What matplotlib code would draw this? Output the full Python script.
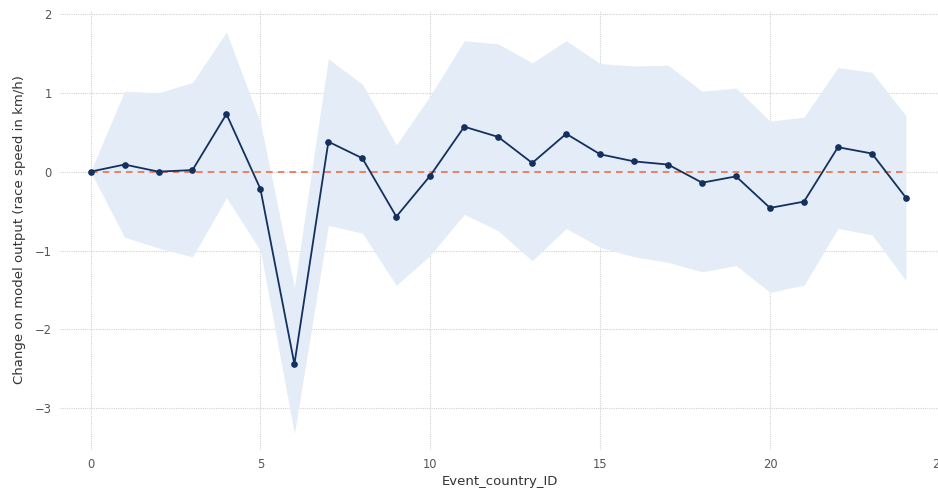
import numpy as np
import matplotlib
matplotlib.use("Agg")
import matplotlib.pyplot as plt

# ===== data =====
event_ids = list(range(25))
mean_change = [0.00, 0.09, 0.00, 0.02, 0.73, -0.22, -2.44, 0.38, 0.17, -0.57,
               -0.05, 0.57, 0.44, 0.11, 0.48, 0.22, 0.13, 0.09, -0.14, -0.06,
               -0.46, -0.38, 0.31, 0.23, -0.33]
upper = [0.00, 1.02, 1.00, 1.13, 1.77, 0.62, -1.47, 1.43, 1.11, 0.34,
         0.96, 1.66, 1.62, 1.38, 1.66, 1.37, 1.34, 1.35, 1.02, 1.06,
         0.64, 0.69, 1.32, 1.26, 0.71]
lower = [0.00, -0.83, -0.97, -1.08, -0.33, -1.00, -3.32, -0.68, -0.78, -1.44,
         -1.06, -0.54, -0.75, -1.13, -0.72, -0.96, -1.08, -1.15, -1.27, -1.19,
         -1.53, -1.44, -0.72, -0.80, -1.38]

x = np.array(event_ids)

fig = plt.figure(figsize=(9.38, 4.91), dpi=100)
ax = fig.add_axes([60 / 938, 41 / 491, 1 - 60 / 938 + 0.002, 440 / 491])

# confidence band, zero line, mean curve
ax.fill_between(x, lower, upper, color="#e3ecf7", linewidth=0, zorder=1)
ax.plot(x, np.zeros_like(x, dtype=float), color="#e8704f", linestyle=(0, (4, 3)),
        linewidth=1.2, zorder=2)
ax.plot(x, mean_change, color="#13305e", linewidth=1.3, marker="o",
        markersize=3.8, zorder=3)

ax.set_xlim(-0.9, 25.0)
ax.set_ylim(-3.53, 2.05)
ax.set_xticks([0, 5, 10, 15, 20, 25])
ax.set_yticks([-3, -2, -1, 0, 1, 2])

ax.grid(True, color="#d2d2d2", linestyle=(0, (1, 1)), linewidth=0.8)
ax.set_axisbelow(True)
for s in ax.spines.values():
    s.set_visible(False)
ax.tick_params(length=0, colors="#555555", labelsize=8.3, pad=6)

ax.set_xlabel("Event_country_ID", fontsize=9.5, color="#333333", labelpad=3)
ax.set_ylabel("Change on model output (race speed in km/h)", fontsize=9.5,
              color="#333333", labelpad=6)

plt.savefig("out.png", dpi=100)
